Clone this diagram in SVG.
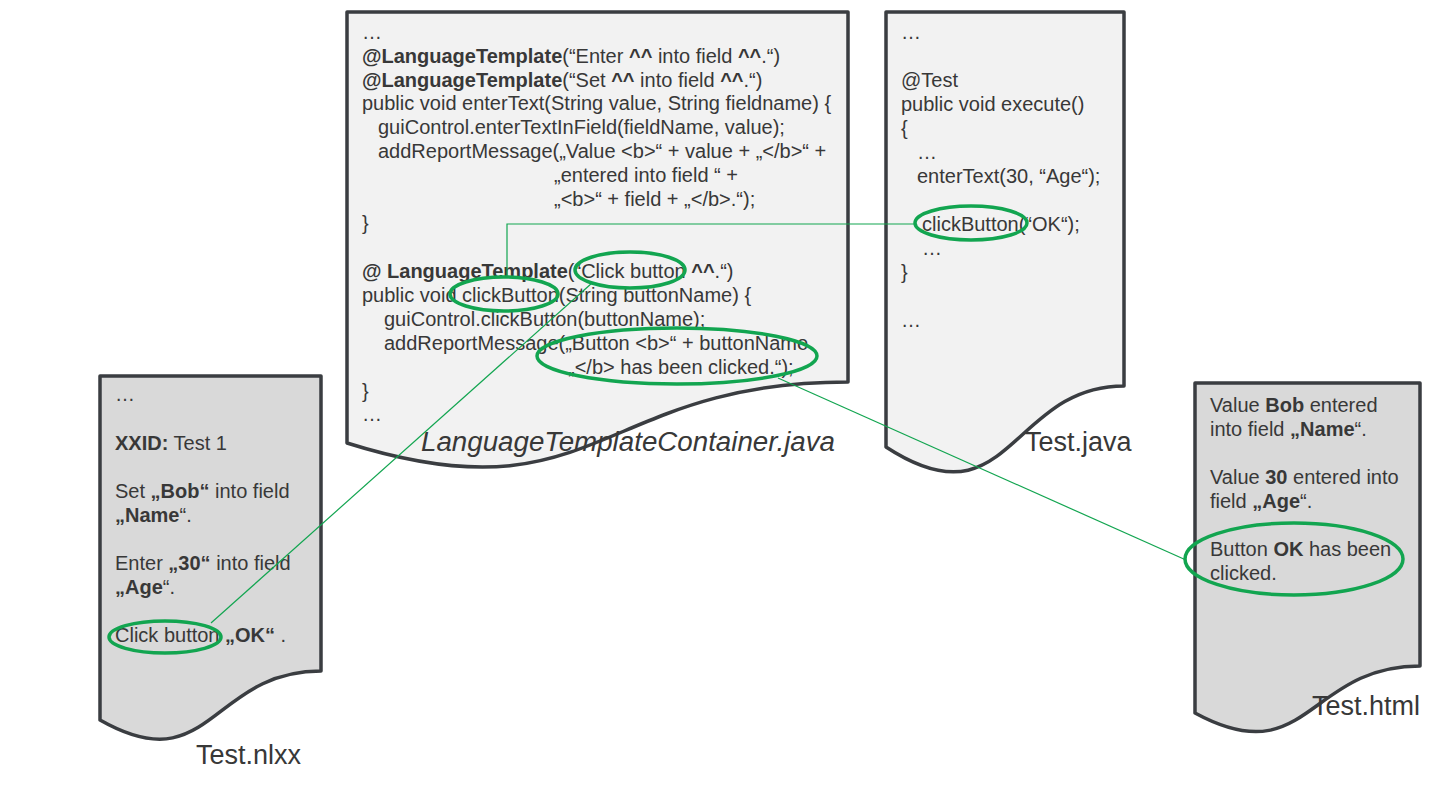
<svg xmlns="http://www.w3.org/2000/svg" width="1439" height="789" viewBox="0 0 1439 789">
<style>
.doc{stroke:#3a3d41;stroke-width:3.5;stroke-linejoin:round}
.light{fill:#f2f2f2}
.dark{fill:#d9d9d9}
.t{font-family:"Liberation Sans",Arial,sans-serif;font-size:20px;fill:#383838}
.lbl{font-family:"Liberation Sans",Arial,sans-serif;font-size:27px;fill:#383838}
.it{font-style:italic}
.b{font-weight:bold}
.hl{fill:none;stroke:#12a550;stroke-width:3.5}
.conn{fill:none;stroke:#12a550;stroke-width:1.2}
</style>
<rect width="1439" height="789" fill="#ffffff"/>

<g id="ltc">
<path class="doc light" d="M347,12 H848 V382 C597.5,382 597.5,522 347,443 Z"/>
<text class="t" x="362" y="39">…</text>
<text class="t" x="362" y="63"><tspan class="b">@LanguageTemplate</tspan>(“Enter <tspan class="b">^^</tspan> into field <tspan class="b">^^</tspan>.“)</text>
<text class="t" x="362" y="87"><tspan class="b">@LanguageTemplate</tspan>(“Set <tspan class="b">^^</tspan> into field <tspan class="b">^^</tspan>.“)</text>
<text class="t" x="362" y="110">public void enterText(String value, String fieldname) {</text>
<text class="t" x="378" y="134">guiControl.enterTextInField(fieldName, value);</text>
<text class="t" x="378" y="158">addReportMessage(„Value &lt;b&gt;“ + value + „&lt;/b&gt;“ +</text>
<text class="t" x="554" y="182">„entered into field “ +</text>
<text class="t" x="554" y="206">„&lt;b&gt;“ + field + „&lt;/b&gt;.“);</text>
<text class="t" x="362" y="230">}</text>
<text class="t" x="362" y="278"><tspan class="b">@ LanguageTemplate</tspan>(“Click button <tspan class="b">^^</tspan>.“)</text>
<text class="t" x="362" y="302">public void clickButton(String buttonName) {</text>
<text class="t" x="384" y="326">guiControl.clickButton(buttonName);</text>
<text class="t" x="384" y="350">addReportMessage(„Button &lt;b&gt;“ + buttonName</text>
<text class="t" x="568" y="374">„&lt;/b&gt; has been clicked.“);</text>
<text class="t" x="362" y="398">}</text>
<text class="t" x="362" y="421">…</text>
<text class="lbl it" x="421" y="451" textLength="414" lengthAdjust="spacingAndGlyphs">LanguageTemplateContainer.java</text>
<ellipse class="hl" cx="630" cy="270" rx="55" ry="18"/>
<ellipse class="hl" cx="504" cy="294" rx="54" ry="17"/>
<ellipse class="hl" cx="677" cy="356" rx="140" ry="28"/>
</g>

<g id="testjava">
<path class="doc light" d="M886,12 H1124 V386 C1010,386 1010,528 886,447 Z"/>
<text class="t" x="901" y="39">…</text>
<text class="t" x="901" y="87">@Test</text>
<text class="t" x="901" y="111">public void execute()</text>
<text class="t" x="901" y="135">{</text>
<text class="t" x="917" y="159">…</text>
<text class="t" x="917" y="183">enterText(30, “Age“);</text>
<text class="t" x="922" y="231">clickButton(“OK“);</text>
<text class="t" x="922" y="255">…</text>
<text class="t" x="901" y="279">}</text>
<text class="t" x="901" y="327">…</text>
<text class="lbl" x="1025" y="451">Test.java</text>
<ellipse class="hl" cx="971" cy="223" rx="56" ry="17"/>
</g>

<g id="testnlxx">
<path class="doc dark" d="M100,376 H321 V671 C210.5,671 210.5,783 100,720 Z"/>
<text class="t" x="115" y="401">…</text>
<text class="t" x="115" y="450"><tspan class="b">XXID:</tspan> Test 1</text>
<text class="t" x="115" y="498">Set <tspan class="b">„Bob“</tspan> into field</text>
<text class="t" x="115" y="522"><tspan class="b">„Name</tspan>“.</text>
<text class="t" x="115" y="570">Enter <tspan class="b">„30“</tspan> into field</text>
<text class="t" x="115" y="594"><tspan class="b">„Age</tspan>“.</text>
<text class="t" x="115" y="642">Click button <tspan class="b">„OK“</tspan> .</text>
<text class="lbl" x="196" y="764">Test.nlxx</text>
<ellipse class="hl" cx="165" cy="637" rx="56" ry="16"/>
</g>

<g id="testhtml">
<path class="doc dark" d="M1195,383 H1420 V666 C1307.5,666 1307.5,774 1195,713 Z"/>
<text class="t" x="1210" y="412">Value <tspan class="b">Bob</tspan> entered</text>
<text class="t" x="1210" y="436">into field <tspan class="b">„Name</tspan>“.</text>
<text class="t" x="1210" y="484">Value <tspan class="b">30</tspan> entered into</text>
<text class="t" x="1210" y="508">field <tspan class="b">„Age</tspan>“.</text>
<text class="t" x="1210" y="556">Button <tspan class="b">OK</tspan> has been</text>
<text class="t" x="1210" y="580">clicked.</text>
<text class="lbl" x="1312" y="715">Test.html</text>
<ellipse class="hl" cx="1294" cy="559" rx="109" ry="36"/>
</g>

<g id="connectors">
<polyline class="conn" points="916,224 507,224 507,278"/>
<line class="conn" x1="211" y1="623" x2="592" y2="283"/>
<line class="conn" x1="778" y1="378" x2="1186" y2="560"/>
</g>
</svg>
